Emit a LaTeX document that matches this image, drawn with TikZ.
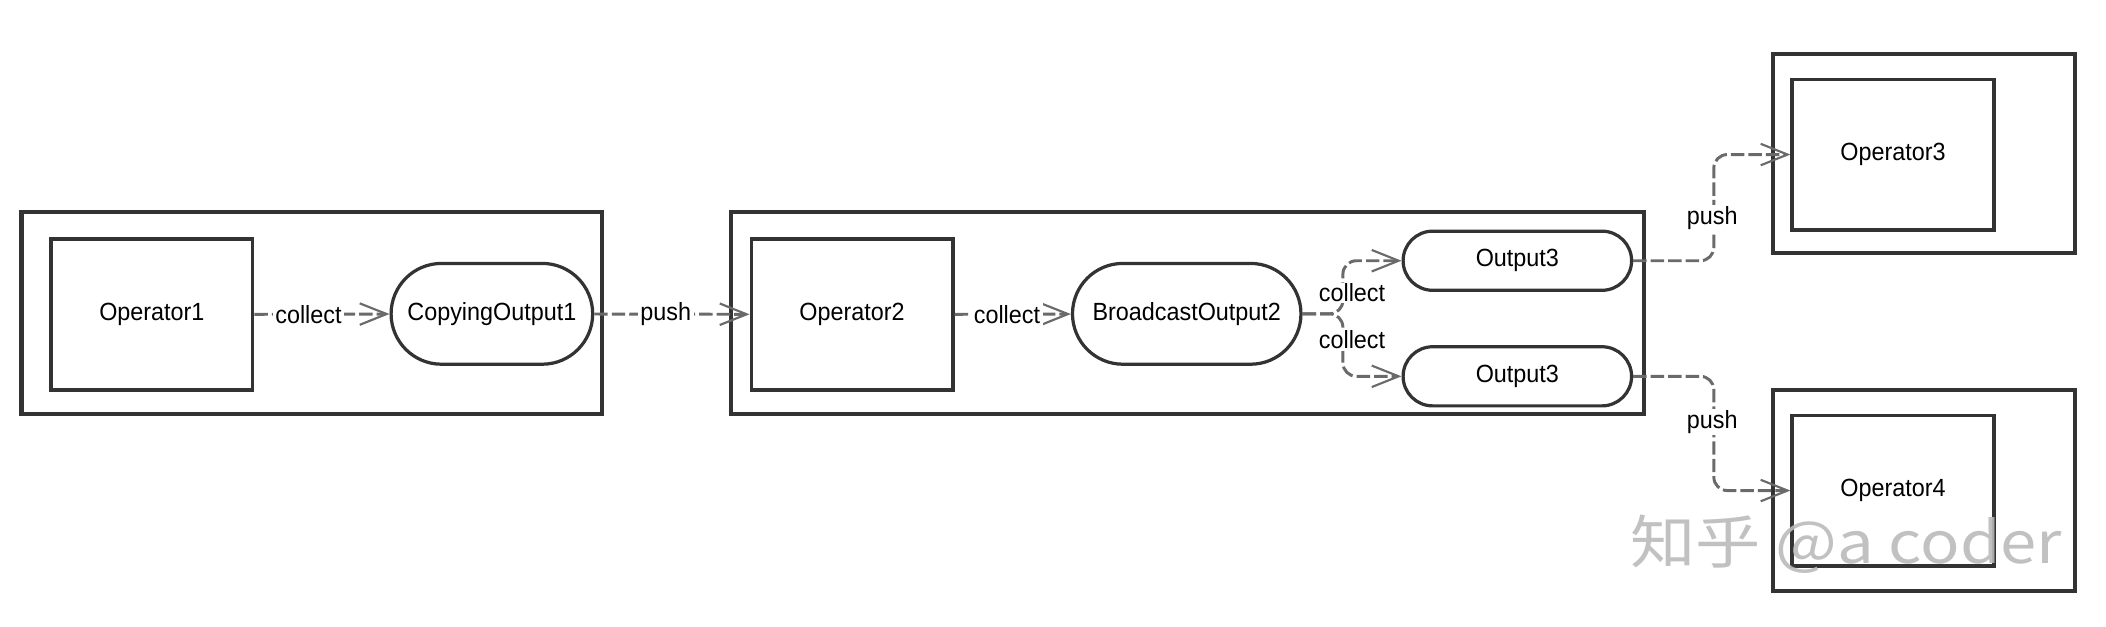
\documentclass[tikz,border=0pt]{standalone}
\usepackage{fontspec}
\setmainfont[FakeStretch=0.94]{Liberation Sans}
\newfontfamily\cjkfont{Noto Sans CJK SC}
\usetikzlibrary{arrows.meta,shapes.misc,calc}
\definecolor{boxline}{HTML}{333333}
\definecolor{connline}{HTML}{6A6A6A}
\begin{document}
\begin{tikzpicture}[x=1pt,y=-1pt,
  every node/.style={font=\fontsize{18.5}{22}\selectfont},
  frame/.style={draw=boxline,line width=3pt,minimum width=#1,inner sep=0pt},
  opbox/.style={draw=boxline,line width=2.6pt,minimum width=150pt,minimum height=112pt,inner sep=0pt},
  pill/.style={draw=boxline,line width=2.4pt,rounded rectangle,minimum width=#1,inner sep=0pt},
  conn/.style={draw=connline,line width=2.2pt,dash pattern=on 10pt off 3pt,
    -{Straight Barb[length=20pt,width=16pt,line width=1.6pt]}},
  lbl/.style={fill=white,inner sep=2pt}]
\useasboundingbox (0,0) rectangle (1567,466);
% containers
\node[frame=432pt,minimum height=150pt] (box1) at (232,233) {};
\node[frame=679pt,minimum height=150pt] (box2) at (883.5,233) {};
\node[frame=225pt,minimum height=148pt] (box3) at (1431.5,114) {};
\node[frame=225pt,minimum height=150pt] (box4) at (1431.5,365) {};
% operators
\node[opbox] (op1) at (113,234) {Operator1};
\node[opbox] (op2) at (634,234) {Operator2};
\node[opbox] (op3) at (1408.5,115) {Operator3};
\node[opbox] (op4) at (1408.5,365) {Operator4};
% outputs
\node[pill=150pt,minimum height=75pt] (copy1) at (366,233.5) {CopyingOutput1};
\node[pill=170pt,minimum height=75pt] (bc2) at (883,233.5) {BroadcastOutput2};
\node[pill=170pt,minimum height=44pt] (out3a) at (1129,194) {Output3};
\node[pill=170pt,minimum height=44pt] (out3b) at (1129,280) {Output3};
% connectors
\draw[conn] (op1) -- node[lbl,pos=0.4] {collect} (copy1);
\draw[conn] (copy1) -- node[lbl,pos=0.46] {push} (op2);
\draw[conn] (op2) -- node[lbl,pos=0.45] {collect} (bc2);
\draw[conn,rounded corners=10pt] (bc2.east) -- ++(30,0) |- (out3a.west);
\draw[conn,rounded corners=10pt] (bc2.east) -- ++(30,0) |- (out3b.west);
\node[lbl,inner sep=1pt] (c1) at (1006,218) {collect};
\node[lbl,inner sep=1pt] (c2) at (1006,253) {collect};
\draw[conn,rounded corners=10pt] (out3a.east) -- ++(60,0) |- (op3.west);
\draw[conn,rounded corners=10pt] (out3b.east) -- ++(60,0) |- (op4.west);
\node[lbl,inner sep=1pt] (p1) at (1274,162) {push};
\node[lbl,inner sep=1pt] (p2) at (1274,314) {push};
% watermark
\node[text=black!27,opacity=0.9,font=\cjkfont\fontsize{43}{43}\selectfont,anchor=west,inner sep=0pt] (wm) at (1213,405) {\scalebox{1.13}[1]{知乎 @a coder}};
\end{tikzpicture}
\end{document}
